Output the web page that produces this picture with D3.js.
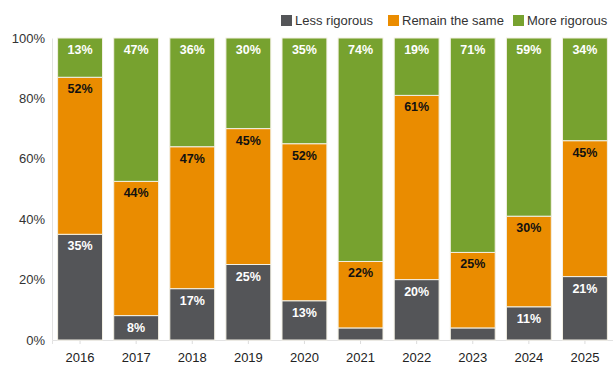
<!DOCTYPE html>
<html>
<head>
<meta charset="utf-8">
<script src="https://cdn.jsdelivr.net/npm/d3@7"></script>
<style>
  html, body { margin: 0; padding: 0; background: #fff; }
  svg { display: block; font-family: "Liberation Sans", Arial, sans-serif; }
</style>
</head>
<body>
<svg id="chart" width="613" height="367"></svg>
<script>
// Survey answers per year, in percent
const years = ["2016", "2017", "2018", "2019", "2020", "2021", "2022", "2023", "2024", "2025"];
const lessRigorous = [35, 8, 17, 25, 13, 4, 20, 4, 11, 21];
const remainSame   = [52, 44, 47, 45, 52, 22, 61, 25, 30, 45];
const moreRigorous = [13, 47, 36, 30, 35, 74, 19, 71, 59, 34];
const seriesNames  = ["Less rigorous", "Remain the same", "More rigorous"];
const seriesColors = ["#545558", "#EA8C00", "#77A22F"];
const labelColors  = ["#ffffff", "#111111", "#ffffff"];
const yTicks = [0, 20, 40, 60, 80, 100];

const seriesValues = [lessRigorous, remainSame, moreRigorous];
const rows = years.map((y, i) => {
  const r = { year: y };
  seriesNames.forEach((n, s) => { r[n] = seriesValues[s][i]; });
  return r;
});

const svg = d3.select("#chart");
const margin = { top: 38, right: 0, bottom: 27, left: 52 };
const W = 613, H = 367;

const x = d3.scaleBand()
  .domain(years)
  .range([margin.left, W - margin.right])
  .paddingInner(0.2)
  .paddingOuter(0.1);

const y = d3.scaleLinear()
  .domain([0, 100])
  .range([H - margin.bottom, margin.top]);

// Normalise each year to its own total so the stacks fill the full height
const stack = d3.stack().keys(seriesNames)
  .offset(d3.stackOffsetExpand);
const layers = stack(rows);

// Axes
const yAxis = d3.axisLeft(y)
  .tickValues(yTicks)
  .tickFormat(d => d + "%")
  .tickSize(0)
  .tickPadding(7);
const gy = svg.append("g")
  .attr("transform", `translate(${margin.left},0)`)
  .call(yAxis);
gy.select(".domain").attr("stroke", "#e2e2e2");
gy.selectAll("text").attr("font-size", 13).attr("fill", "#333");

const xAxis = d3.axisBottom(x).tickSize(4).tickPadding(9);
const gx = svg.append("g")
  .attr("transform", `translate(0,${H - margin.bottom})`)
  .call(xAxis);
gx.select(".domain").attr("stroke", "#e2e2e2");
gx.selectAll(".tick line").attr("stroke", "#dcdcdc");
gx.selectAll("text").attr("font-size", 13).attr("fill", "#222");

const yp = v => y(v * 100);

// Bars
const layerG = svg.append("g").selectAll("g")
  .data(layers)
  .join("g")
  .attr("fill", (d, i) => seriesColors[i]);

layerG.selectAll("rect")
  .data(d => d)
  .join("rect")
  .attr("x", d => x(d.data.year))
  .attr("width", x.bandwidth())
  .attr("y", d => yp(d[1]))
  .attr("height", d => yp(d[0]) - yp(d[1]))
  .attr("stroke", "#f3f0e4")
  .attr("stroke-width", 1);

// Value labels near the top of each segment
layerG.each(function (layer, li) {
  d3.select(this).selectAll("text")
    .data(layer.filter(d => d.data[layer.key] >= 8))
    .join("text")
    .attr("x", d => x(d.data.year) + x.bandwidth() / 2)
    .attr("y", d => yp(d[1]) + 16)
    .attr("text-anchor", "middle")
    .attr("font-size", 12.5)
    .attr("font-weight", "bold")
    .attr("fill", labelColors[li])
    .text(d => d.data[layer.key] + "%");
});

// Legend
const legendX = [281, 388, 513];
const lg = svg.append("g");
seriesNames.forEach((n, i) => {
  lg.append("rect")
    .attr("x", legendX[i]).attr("y", 15)
    .attr("width", 11).attr("height", 11)
    .attr("fill", seriesColors[i]);
  lg.append("text")
    .attr("x", legendX[i] + 14).attr("y", 25)
    .attr("font-size", 13).attr("fill", "#333")
    .text(n);
});
</script>
</body>
</html>
